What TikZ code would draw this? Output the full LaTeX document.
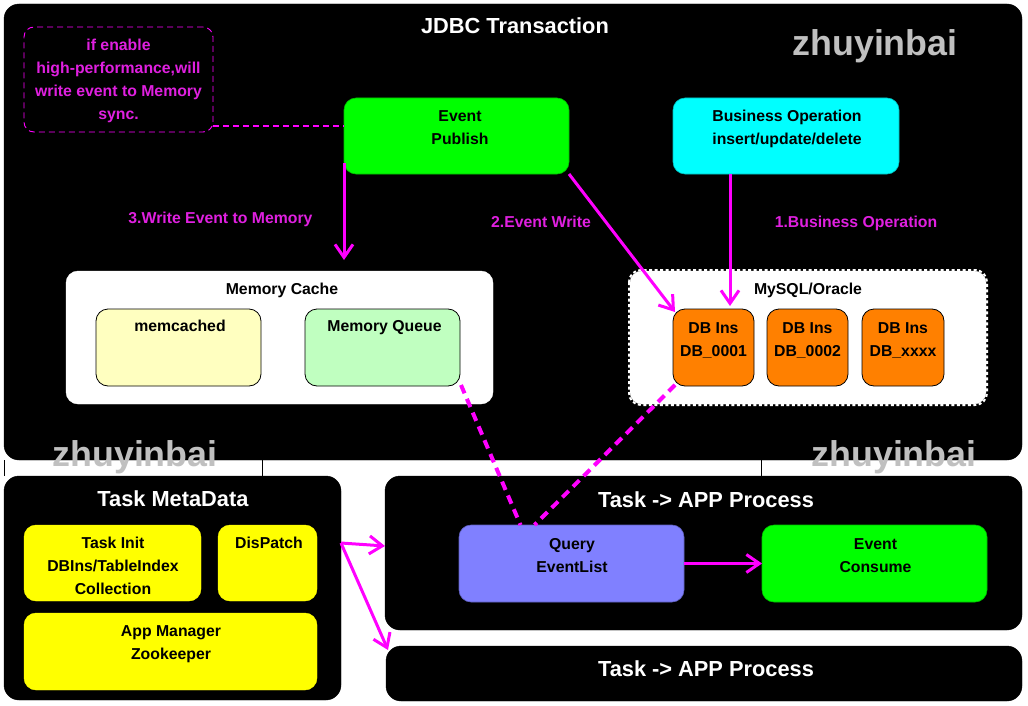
\documentclass[tikz,border=0pt]{standalone}
\usepackage{fontspec}
\setmainfont{Liberation Sans}
\usetikzlibrary{arrows.meta}
\definecolor{mag}{HTML}{FF00FF}
\definecolor{magtxt}{HTML}{E020E0}
\definecolor{wmgray}{HTML}{C0C0C0}
\definecolor{pubgreen}{HTML}{00FF00}
\definecolor{bizcyan}{HTML}{00FFFF}
\definecolor{lyellow}{HTML}{FFFFC0}
\definecolor{lgreen}{HTML}{C0FFC0}
\definecolor{dborange}{HTML}{FF8000}
\definecolor{qpurple}{HTML}{8080FF}
\definecolor{tyellow}{HTML}{FFFF00}
\newcommand\bx[6]{\node[#1, minimum width={(#5-#3)*1pt}, minimum height={(#6-#4)*1pt}] (#2) at ({(#3+#5)/2},{(#4+#6)/2}) {};}
\begin{document}
\begin{tikzpicture}[x=1pt,y=-1pt,
  blackbox/.style={fill=black, draw=black, rounded corners=15pt, inner sep=0pt, outer sep=0pt},
  cbox/.style={fill=#1, draw=#1!75!black, line width=0.6pt, rounded corners=12pt, inner sep=0pt, outer sep=0pt},
  kbox/.style={fill=#1, draw=black, line width=0.8pt, rounded corners=12pt, inner sep=0pt, outer sep=0pt},
  ybox/.style={fill=tyellow, draw=tyellow, rounded corners=12pt, inner sep=0pt, outer sep=0pt},
  wbox/.style={fill=white, draw=white, rounded corners=12pt, inner sep=0pt, outer sep=0pt},
  notebox/.style={draw=mag, line width=0.9pt, dash pattern=on 6pt off 4pt, rounded corners=10pt, inner sep=0pt, outer sep=0pt},
  lbl/.style={font=\bfseries\fontsize{15.8}{23}\selectfont, align=center, inner sep=0pt, anchor=base},
  maglbl/.style={lbl, text=magtxt},
  ttl/.style={font=\bfseries\fontsize{21.8}{26}\selectfont, text=white, inner sep=0pt, anchor=base},
  wm/.style={font=\bfseries\fontsize{35.8}{40}\selectfont, text=wmgray, inner sep=0pt, anchor=base},
  arr/.style={draw=mag, line width=3pt, -{Straight Barb[length=13pt,width=18pt]}},
  thickdash/.style={draw=mag, line width=4pt, dash pattern=on 9pt off 6pt},
  thindash/.style={draw=mag, line width=1.8pt, dash pattern=on 6pt off 4pt},
  seam/.style={draw=black, line width=1pt}
]
\useasboundingbox (0,0) rectangle (1028,706);
\fill[white] (0,0) rectangle (1028,706);

% JDBC transaction area
\bx{blackbox}{jdbc}{4}{4}{1022}{460}
\node[ttl] (jdbct) at (515,33.3) {JDBC Transaction};
\node[wm] (wm1) at (875,55.5) {zhuyinbai};

% seams between the regions
\coordinate (s1a) at (4,460);   \coordinate (s1b) at (4,476);
\coordinate (s2a) at (262,460); \coordinate (s2b) at (262,476);
\coordinate (s3a) at (761,460); \coordinate (s3b) at (761,476);
\draw[seam] (s1a) -- (s1b);
\draw[seam] (s2a) -- (s2b);
\draw[seam] (s3a) -- (s3b);

% note (base anchor = baseline of last line)
\bx{notebox}{note}{24}{27}{213}{132}
\node[maglbl] (notet) at (118.5,119.5) {if enable\\high-performance,will\\write event to Memory\\sync.};

% event publish / business operation
\bx{cbox=pubgreen}{pub}{344}{98}{569}{174}
\node[lbl] (pubt) at (460,144.5) {Event\\Publish};
\bx{cbox=bizcyan}{biz}{673}{98}{899}{174}
\node[lbl] (bizt) at (787,145) {Business Operation\\insert/update/delete};

% labels
\node[maglbl] (l3) at (220.5,223.3) {3.Write Event to Memory};
\node[maglbl] (l2) at (541,227.5) {2.Event Write};
\node[maglbl] (l1) at (856,227.5) {1.Business Operation};

% memory cache
\bx{wbox}{mc}{66}{271}{493}{404}
\node[lbl] (mct) at (282,294.3) {Memory Cache};
\bx{kbox=lyellow}{mcd}{96}{309}{261}{386}
\node[lbl] (mcdt) at (180,331.7) {memcached};
\bx{kbox=lgreen}{mq}{305}{309}{460}{386}
\node[lbl] (mqt) at (384.5,331.7) {Memory Queue};

% MySQL / Oracle
\bx{wbox}{sql}{630}{271}{986}{404}
\draw[white, line width=2pt, dash pattern=on 3pt off 2.5pt, rounded corners=12pt] (629,270) rectangle (987,405);
\node[lbl] (sqlt) at (808,294.3) {MySQL/Oracle};
\bx{kbox=dborange}{db1}{673}{309}{754}{386}
\node[lbl] (db1t) at (713.5,356) {DB Ins\\DB\_0001};
\bx{kbox=dborange}{db2}{767}{309}{848}{386}
\node[lbl] (db2t) at (807.5,356) {DB Ins\\DB\_0002};
\bx{kbox=dborange}{db3}{862}{309}{944}{386}
\node[lbl] (db3t) at (903,356) {DB Ins\\DB\_xxxx};

% bottom watermarks
\node[wm] (wm2) at (135,466) {zhuyinbai};
\node[wm] (wm3) at (894,466) {zhuyinbai};

% Task MetaData
\bx{blackbox}{meta}{4}{476}{341}{700}
\node[ttl] (metat) at (173,506.7) {Task MetaData};
\bx{ybox}{ti}{24}{525}{201}{601}
\node[lbl] (tit) at (113,594.3) {Task Init\\DBIns/TableIndex\\Collection};
\bx{ybox}{dp}{218}{525}{317}{601}
\node[lbl] (dpt) at (269,548.3) {DisPatch};
\bx{ybox}{am}{24}{613}{317}{690}
\node[lbl] (amt) at (171,659.7) {App Manager\\Zookeeper};

% Task -> APP Process
\bx{blackbox}{app1}{385}{476}{1022}{630}
\node[ttl] (app1t) at (706,507) {Task -> APP Process};
\bx{cbox=qpurple}{q}{459}{525}{684}{602}
\node[lbl] (qt) at (572,572) {Query\\EventList};
\bx{cbox=pubgreen}{ec}{762}{525}{987}{602}
\node[lbl] (ect) at (875.5,572) {Event\\Consume};
\bx{blackbox}{app2}{386}{646}{1022}{701}
\node[ttl] (app2t) at (706,676) {Task -> APP Process};

% connectors
\draw[thindash] ([yshift=6pt]note.south east) -- ([yshift=6pt]note.south east -| pub.west);
\draw[arr] ([yshift=11pt]pub.south west) -- ([yshift=11pt]pub.south west |- mc.north);
\draw[arr] (pub.south east) -- ([xshift=2pt,yshift=-3pt]db1.north west);
\draw[arr] ([xshift=-56pt]biz.south) -- ([xshift=-56pt,yshift=3pt]biz.south |- db1.north);
\draw[thickdash] ([xshift=1pt,yshift=1pt]mq.south east) -- ([xshift=-51pt]q.north);
\draw[thickdash] ([xshift=2pt,yshift=1pt]db1.south west) -- ([xshift=-37pt]q.north);
\draw[arr] (q.east) -- (ec.west);
\coordinate (br) at (341,543);
\draw[arr] (br) -- ([yshift=-3pt]br -| app1.west);
\draw[arr] (br) -- ([xshift=2pt,yshift=-4pt]app2.north west);
\end{tikzpicture}
\end{document}
